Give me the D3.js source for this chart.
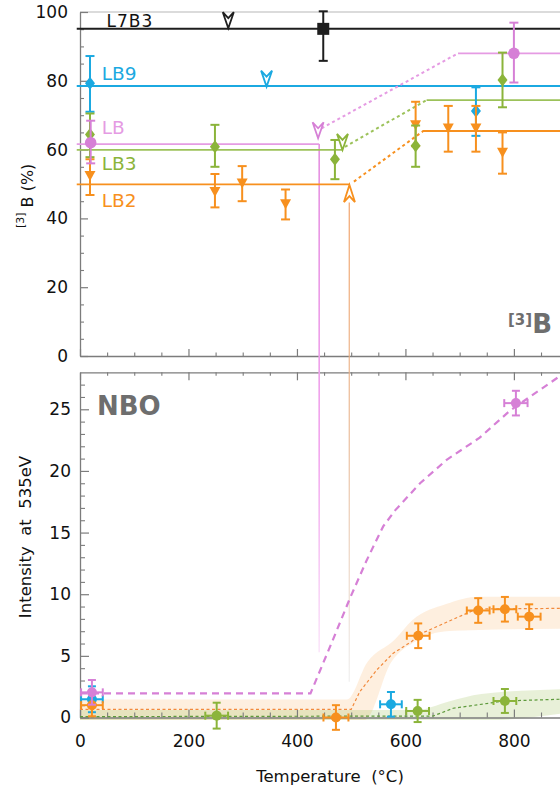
<!DOCTYPE html>
<html><head><meta charset="utf-8">
<script src="https://cdn.jsdelivr.net/npm/d3@7"></script>
<style>
body{margin:0;background:#fff;overflow:hidden}
svg{display:block}
text{font-family:"DejaVu Sans",sans-serif}
</style>
</head><body>
<svg id="c" width="560" height="791"></svg>
<script>
// ---------- DATA ----------
const xMajorTicks = [0, 200, 400, 600, 800];
const xTickLabels = ["0", "200", "400", "600", "800"];
const yTopMajorTicks = [0, 20, 40, 60, 80, 100];
const yBotMajorTicks = [0, 5, 10, 15, 20, 25];

// top panel: horizontal levels [T, value]
const l7b3Level = [[-6, 95.1], [900, 95.1]];
const lb9Level = [[-6, 78.5], [900, 78.5]];
const lbLevelLow = [[-6, 61.6], [441, 61.6]];
const lbTransition = [[445.5, 66.2], [697, 88]];
const lbLevelHigh = [[697, 88], [900, 88]];
const lb3LevelLow = [[-6, 59.9], [485, 59.9]];
const lb3Transition = [[488.5, 60.8], [639, 74.4]];
const lb3LevelHigh = [[639, 74.4], [900, 74.4]];
const lb2LevelLow = [[-6, 49.9], [497.7, 49.9]];
const lb2Transition = [[505, 50.7], [632.8, 65.4]];
const lb2LevelHigh = [[631.7, 65.4], [900, 65.4]];

// top panel points [T, value, low, high]
const l7b3Points = [[448.5, 95.1, 85.8, 100.2]];
const lb9Points = [[18.4, 79.3, 71, 87.2], [730, 71.2, 64, 78.1]];
const lbPoints = [[19.7, 62, 56, 68.4], [800, 88, 79.5, 96.9]];
const lb3Points = [[18.4, 64.4, 57.8, 70.5], [248.8, 60.8, 55, 67.2], [470, 57.2, 51.4, 62.8], [618.8, 61.1, 55, 67], [779, 80.2, 72.3, 88.2]];
const lb2Points = [[18.4, 52.6, 46.8, 57.2], [248.8, 48, 43.2, 52.9], [299, 50.4, 45, 55.2], [379, 44.4, 39.7, 48.4], [618.8, 67.4, 61, 73.9], [679, 66.4, 59.4, 72.7], [730, 66.4, 59.4, 72.7], [779, 59.4, 53, 65]];

// onset markers [T, value]
const onsetL7B3 = [273.4, 95.3];
const onsetLB9 = [344, 78.3];
const onsetLB = [439, 63.3];
const onsetLB3 = [484, 59.9];
const onsetLB2 = [496.8, 49.7];

// drop lines [T, topValue(top panel), endValue(bottom panel)]
const lbDrop = [441, 61.6, 5.3];
const lb2Drop = [496.4, 44.6, 2.9];

// bottom panel points [T, value, yErr, xErr]
const nboLB = [[22, 2.04, 1.0, 20], [803.7, 25.5, 1.0, 21.5]];
const nboLB9 = [[22, 1.48, 1.05, 20], [573.3, 1.07, 1.0, 20]];
const nboLB2 = [[22, 1.0, 0.9, 20], [471.9, 0.0, 1.0, 23], [623.6, 6.63, 1.0, 21], [734.2, 8.68, 1.0, 21], [783.4, 8.78, 1.0, 21], [828.2, 8.18, 1.0, 21]];
const nboLB3 = [[252, 0.15, 1.05, 21], [622.5, 0.53, 0.9, 21], [783.4, 1.34, 0.97, 21]];

// bottom panel guide curves [T, value]
const nboLBCurve = [[0, 1.96], [425, 1.96], [464, 6.06], [498, 9.7], [528, 12.7], [559, 15.5], [581, 16.8], [627, 19.0], [676, 20.9], [737, 22.7], [793, 24.9], [885, 27.7]];
const nboLB2Curve = [[0, 0.66], [500, 0.66], [516, 2.1], [547, 3.85], [577, 5.2], [611, 6.15], [630, 6.83], [731, 8.8], [885, 8.85]];
const nboLB3Curve = [[0, 0.07], [651, 0.12], [688, 0.75], [783, 1.34], [885, 1.48]];
const nboLB2BandUpper = [[0, 1.45], [492, 1.45], [530, 4.5], [580, 6.3], [613, 7.9], [675, 9.2], [736, 9.8], [885, 9.8]];
const nboLB2BandLower = [[0, -0.2], [525, -0.2], [574, 4.5], [620, 6.2], [675, 7.0], [736, 7.1], [885, 7.2]];
const nboLB3BandUpper = [[0, 0.6], [620, 0.6], [680, 1.3], [740, 1.9], [885, 2.3]];
const nboLB3BandLower = [[0, -0.2], [760, -0.2], [885, 0.3]];

// ---------- STYLE ----------
const C = {black: "#1e1e1e", cyan: "#1ba9e1", pink: "#d680d6", pinkLine: "#e59be3", green: "#8bb43a", orange: "#f7901e", axis: "#7c7c7c"};

const svg = d3.select("#c");
const x = d3.scaleLinear().domain([0, 885]).range([80, 560]);
const yT = d3.scaleLinear().domain([0, 100]).range([356, 12]);
const yB = d3.scaleLinear().domain([0, 28]).range([717.5, 372.3]);

function styleAxis(g, fs) {
  g.select(".domain").attr("stroke", C.axis).attr("stroke-width", 1.3);
  g.selectAll(".tick line").attr("stroke", C.axis).attr("stroke-width", 1.2);
  g.selectAll("text").attr("font-family", "DejaVu Sans, sans-serif").attr("font-size", fs).attr("fill", "#111");
}
function minorAxis(g) { g.select(".domain").remove(); g.selectAll(".tick line").attr("stroke", C.axis).attr("stroke-width", 1.1); }

const xMinor = d3.range(0, 900, 50).filter(d => !xMajorTicks.includes(d));
const yTopMinor = d3.range(0, 100, 5).filter(d => d % 20 !== 0);
const yBotMinor = d3.range(1, 28, 1).filter(d => d % 5 !== 0);

// ---------- GRADIENTS ----------
const defs = svg.append("defs");
const gp = defs.append("linearGradient").attr("id", "gp").attr("gradientUnits", "userSpaceOnUse")
  .attr("x1", 0).attr("x2", 0).attr("y1", yT(lbDrop[1])).attr("y2", yB(lbDrop[2]));
gp.append("stop").attr("offset", 0).attr("stop-color", "#e48fe0");
gp.append("stop").attr("offset", 0.6).attr("stop-color", "#f2a6ee");
gp.append("stop").attr("offset", 1).attr("stop-color", "#fbe6fa");
const go = defs.append("linearGradient").attr("id", "go").attr("gradientUnits", "userSpaceOnUse")
  .attr("x1", 0).attr("x2", 0).attr("y1", yT(lb2Drop[1])).attr("y2", yB(lb2Drop[2]));
go.append("stop").attr("offset", 0).attr("stop-color", "#f09a5c");
go.append("stop").attr("offset", 0.5).attr("stop-color", "#e8b894");
go.append("stop").attr("offset", 1).attr("stop-color", "#eeeeee");

// ---------- BOTTOM PANEL BANDS ----------
const bandLine = d3.line().x(d => x(d[0])).y(d => yB(d[1])).curve(d3.curveMonotoneX);
function bandPath(up, lo) {
  const a = bandLine(up);
  const b = bandLine(lo.slice().reverse());
  return a + "L" + b.slice(1) + "Z";
}
svg.append("path").attr("d", bandPath(nboLB2BandUpper, nboLB2BandLower)).attr("fill", "#f7901e").attr("fill-opacity", 0.14);
svg.append("path").attr("d", bandPath(nboLB3BandUpper, nboLB3BandLower)).attr("fill", "#8bb43a").attr("fill-opacity", 0.2);

// ---------- AXES ----------
svg.append("line").attr("x1", x(0)).attr("x2", 560).attr("y1", yT(100)).attr("y2", yT(100)).attr("stroke", "#cfcfcf").attr("stroke-width", 1.5);

const gTL = svg.append("g").attr("transform", `translate(${x(0)},0)`)
  .call(d3.axisLeft(yT).tickValues(yTopMajorTicks).tickSize(-8).tickSizeOuter(0).tickPadding(12).tickFormat(d3.format("d")));
styleAxis(gTL, 17);
svg.append("g").attr("transform", `translate(${x(0)},0)`).call(d3.axisLeft(yT).tickValues(yTopMinor).tickSize(-4).tickFormat("")).call(minorAxis);
const gTB = svg.append("g").attr("transform", `translate(0,${yT(0)})`)
  .call(d3.axisBottom(x).tickValues(xMajorTicks).tickSize(-7).tickSizeOuter(0).tickFormat(""));
styleAxis(gTB, 17);
svg.append("g").attr("transform", `translate(0,${yT(0)})`).call(d3.axisBottom(x).tickValues(xMinor).tickSize(-3.5).tickFormat("")).call(minorAxis);

const gBL = svg.append("g").attr("transform", `translate(${x(0)},0)`)
  .call(d3.axisLeft(yB).tickValues(yBotMajorTicks).tickSize(-9).tickSizeOuter(0).tickPadding(9).tickFormat(d3.format("d")));
styleAxis(gBL, 17);
svg.append("g").attr("transform", `translate(${x(0)},0)`).call(d3.axisLeft(yB).tickValues(yBotMinor).tickSize(-5).tickFormat("")).call(minorAxis);
const gBB = svg.append("g").attr("transform", `translate(0,${yB(0)})`)
  .call(d3.axisBottom(x).tickValues(xMajorTicks).tickSize(-8).tickSizeOuter(0).tickPadding(17).tickFormat((d, i) => xTickLabels[i]));
styleAxis(gBB, 17);
svg.append("g").attr("transform", `translate(0,${yB(0)})`).call(d3.axisBottom(x).tickValues(xMinor).tickSize(-5).tickFormat("")).call(minorAxis);
const gBT = svg.append("g").attr("transform", `translate(0,${yB(28)})`)
  .call(d3.axisTop(x).tickValues(xMajorTicks).tickSize(-8).tickSizeOuter(0).tickFormat(""));
styleAxis(gBT, 17);
svg.append("g").attr("transform", `translate(0,${yB(28)})`).call(d3.axisTop(x).tickValues(xMinor).tickSize(-3.5).tickFormat("")).call(minorAxis);

// ---------- AXIS TITLES ----------
const t1 = svg.append("text").attr("transform", `translate(33,228) rotate(-90)`).attr("fill", "#111");
t1.append("tspan").attr("font-size", 11).attr("dy", -9).text("[3]");
t1.append("tspan").attr("font-size", 16).attr("dy", 9).attr("dx", 5).text("B (%)");

svg.append("text").attr("transform", `translate(31,537) rotate(-90)`).attr("text-anchor", "middle")
  .attr("font-size", 16.5).attr("fill", "#111").style("white-space", "pre").text("Intensity  at  535eV");
svg.append("text").attr("x", 330).attr("y", 782).attr("text-anchor", "middle")
  .attr("font-size", 16.5).attr("fill", "#111").style("white-space", "pre").text("Temperature  (°C)");

// ---------- DROP LINES ----------
svg.append("line").attr("x1", x(lbDrop[0])).attr("x2", x(lbDrop[0])).attr("y1", yT(lbDrop[1])).attr("y2", yB(lbDrop[2]))
  .attr("stroke", "url(#gp)").attr("stroke-width", 1.6);
svg.append("line").attr("x1", x(lb2Drop[0])).attr("x2", x(lb2Drop[0])).attr("y1", yT(lb2Drop[1])).attr("y2", yB(lb2Drop[2]))
  .attr("stroke", "url(#go)").attr("stroke-width", 1.1);

// ---------- TOP PANEL LINES ----------
const lineT = d3.line().x(d => x(d[0])).y(d => yT(d[1]));
function tl(data, color, w, dash) {
  const p = svg.append("path").attr("d", lineT(data)).attr("fill", "none").attr("stroke", color).attr("stroke-width", w);
  if (dash) p.attr("stroke-dasharray", dash);
}
tl(l7b3Level, C.black, 2);
tl(lb9Level, C.cyan, 2);
tl(lbLevelLow, C.pinkLine, 1.8); tl(lbTransition, C.pinkLine, 2, "3,3"); tl(lbLevelHigh, C.pinkLine, 1.8);
tl(lb3LevelLow, "#9cc25a", 1.8); tl(lb3Transition, "#9cc25a", 2, "3,3"); tl(lb3LevelHigh, "#9cc25a", 1.8);
tl(lb2LevelLow, C.orange, 1.8); tl(lb2Transition, C.orange, 2, "3,3"); tl(lb2LevelHigh, C.orange, 1.8);

// ---------- BOTTOM PANEL CURVES ----------
const lineBL = d3.line().x(d => x(d[0])).y(d => yB(d[1]));
svg.append("path").attr("d", lineBL(nboLB3Curve)).attr("fill", "none").attr("stroke", "#5e9a3c").attr("stroke-width", 1.2).attr("stroke-dasharray", "3,2.5");
svg.append("path").attr("d", lineBL(nboLB2Curve)).attr("fill", "none").attr("stroke", "#f28a3c").attr("stroke-width", 1.2).attr("stroke-dasharray", "3,2.5");
svg.append("path").attr("d", lineBL(nboLBCurve)).attr("fill", "none").attr("stroke", C.pink).attr("stroke-width", 2.2).attr("stroke-dasharray", "7,5");

// ---------- TOP PANEL MARKERS ----------
const shapes = {
  diamond: "M0,-6.5L5,0L0,6.5L-5,0Z",
  tri: "M-5.5,-4L5.5,-4L0,6Z",
  square: "M-6,-6H6V6H-6Z"
};
function topPts(data, color, shape) {
  const g = svg.append("g");
  data.forEach(d => {
    const cx = x(d[0]), cy = yT(d[1]), y1 = yT(d[3]), y2 = yT(d[2]);
    g.append("line").attr("x1", cx).attr("x2", cx).attr("y1", y1).attr("y2", y2).attr("stroke", color).attr("stroke-width", 2);
    g.append("line").attr("x1", cx - 4.5).attr("x2", cx + 4.5).attr("y1", y1).attr("y2", y1).attr("stroke", color).attr("stroke-width", 2);
    g.append("line").attr("x1", cx - 4.5).attr("x2", cx + 4.5).attr("y1", y2).attr("y2", y2).attr("stroke", color).attr("stroke-width", 2);
    if (shape === "circle") g.append("circle").attr("cx", cx).attr("cy", cy).attr("r", 5.8).attr("fill", color);
    else g.append("path").attr("transform", `translate(${cx},${cy})`).attr("d", shapes[shape]).attr("fill", color);
  });
}
topPts(lb9Points, C.cyan, "diamond");
topPts(lb2Points, C.orange, "tri");
topPts(lb3Points, C.green, "diamond");
topPts(lbPoints, C.pink, "circle");
topPts(l7b3Points, C.black, "square");

function arrow(p, color, up) {
  const d = up ? "M-5.5,17L0,0L5.5,17L0,11Z" : "M-5.5,-16L0,0L5.5,-16L0,-10Z";
  svg.append("path").attr("transform", `translate(${x(p[0])},${yT(p[1])})`).attr("d", d)
    .attr("fill", "#fff").attr("stroke", color).attr("stroke-width", 1.8).attr("stroke-linejoin", "miter");
}
arrow(onsetL7B3, C.black);
arrow(onsetLB9, C.cyan);
arrow(onsetLB, C.pink);
arrow(onsetLB3, C.green);
arrow(onsetLB2, C.orange, true);

// ---------- BOTTOM PANEL MARKERS ----------
function botPts(data, color) {
  const g = svg.append("g");
  data.forEach(d => {
    const cx = x(d[0]), cy = yB(d[1]);
    const ya = yB(d[1] + d[2]), yb = yB(d[1] - d[2]);
    const xa = x(d[0] - d[3]), xb = x(d[0] + d[3]);
    const L = (a, b, c, e) => g.append("line").attr("x1", a).attr("y1", b).attr("x2", c).attr("y2", e).attr("stroke", color).attr("stroke-width", 2);
    L(cx, ya, cx, yb); L(cx - 4, ya, cx + 4, ya); L(cx - 4, yb, cx + 4, yb);
    L(xa, cy, xb, cy); L(xa, cy - 4, xa, cy + 4); L(xb, cy - 4, xb, cy + 4);
    g.append("circle").attr("cx", cx).attr("cy", cy).attr("r", 5).attr("fill", color);
  });
}
botPts(nboLB3, C.green);
botPts(nboLB9, C.cyan);
botPts(nboLB2, C.orange);
botPts(nboLB, C.pink);

// ---------- LABELS ----------
svg.append("text").attr("x", x(49)).attr("y", 27).attr("font-size", 17).attr("letter-spacing", 1).attr("fill", "#111").text("L7B3");
svg.append("text").attr("x", x(40)).attr("y", 80).attr("font-size", 18.5).attr("fill", C.cyan).text("LB9");
svg.append("text").attr("x", x(40)).attr("y", 134).attr("font-size", 18.5).attr("fill", C.pinkLine).text("LB");
svg.append("text").attr("x", x(40)).attr("y", 170).attr("font-size", 18.5).attr("fill", C.green).text("LB3");
svg.append("text").attr("x", x(40)).attr("y", 207).attr("font-size", 18.5).attr("fill", C.orange).text("LB2");

const b3 = svg.append("text").attr("x", 508).attr("y", 333).attr("fill", "#6e6e6e").attr("font-family", "Open Sans, sans-serif").attr("font-weight", "bold");
b3.append("tspan").attr("font-size", 15).attr("dy", -8).text("[3]");
b3.append("tspan").attr("font-size", 26).attr("dy", 8).text("B");

svg.append("text").attr("x", 97).attr("y", 415).attr("fill", "#6e6e6e").attr("font-family", "Open Sans, sans-serif")
  .attr("font-weight", "bold").attr("font-size", 26).text("NBO");
</script>
</body></html>
